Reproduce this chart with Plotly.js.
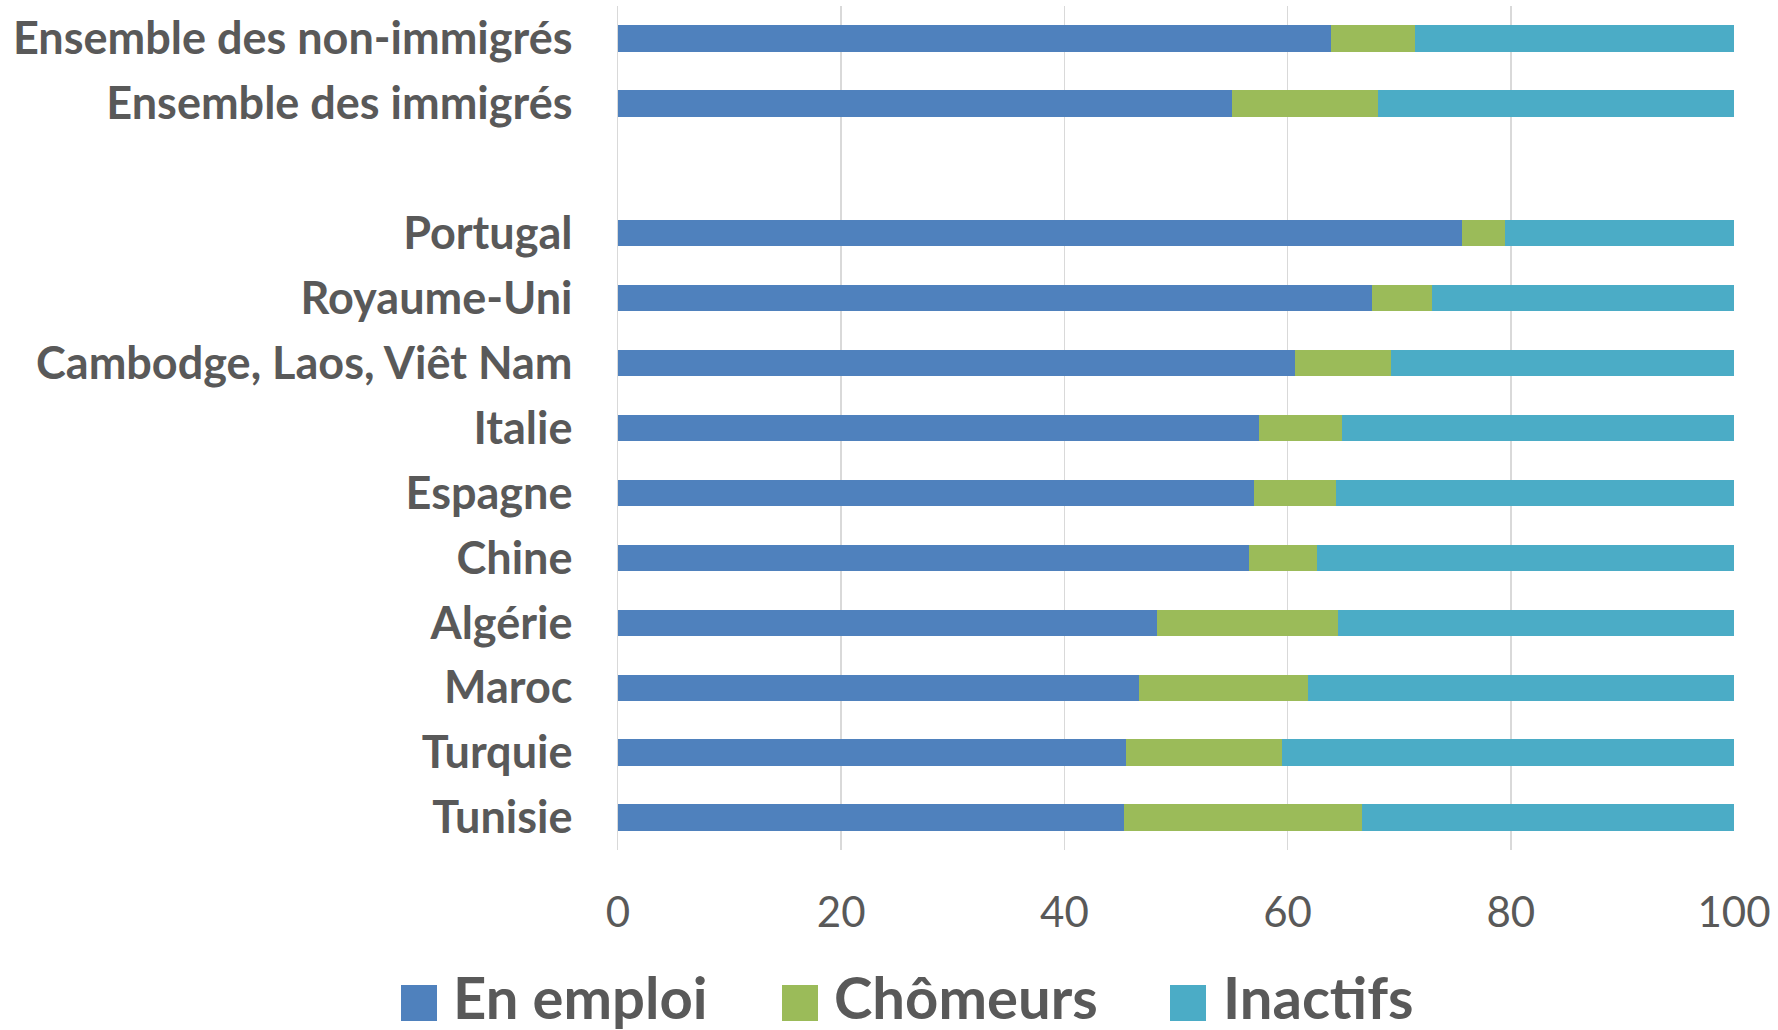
<!DOCTYPE html>
<html>
<head>
<meta charset="utf-8">
<script src="https://cdn.plot.ly/plotly-3.0.1.min.js"></script>
<style>
  html, body { margin: 0; padding: 0; background: #ffffff; }
  #chart { width: 1778px; height: 1030px; }
</style>
</head>
<body>
<div id="chart"></div>
<script>
// Categories, top to bottom (blank row separates the two totals from the countries)
const categories = [
  "Ensemble des non-immigrés",
  "Ensemble des immigrés",
  " ",
  "Portugal",
  "Royaume-Uni",
  "Cambodge, Laos, Viêt Nam",
  "Italie",
  "Espagne",
  "Chine",
  "Algérie",
  "Maroc",
  "Turquie",
  "Tunisie"
];
const enEmploi = [63.9, 55.0, null, 75.6, 67.6, 60.7, 57.4, 57.0, 56.5, 48.3, 46.7, 45.5, 45.3];
const chomeurs = [7.5, 13.1, null, 3.9, 5.3, 8.6, 7.5, 7.3, 6.1, 16.2, 15.1, 14.0, 21.4];
const inactifs = [28.6, 31.9, null, 20.5, 27.1, 30.7, 35.1, 35.7, 37.4, 35.5, 38.2, 40.5, 33.3];
const seriesNames = ["En emploi", "Chômeurs", "Inactifs"];
const xTicks = [0, 20, 40, 60, 80, 100];

const colors = ["#4F81BD", "#9BBB59", "#4BACC6"];
const textColor = "#595959";
const seriesValues = [enEmploi, chomeurs, inactifs];

const traces = seriesValues.map((vals, i) => ({
  type: "bar",
  orientation: "h",
  name: seriesNames[i],
  y: categories,
  x: vals,
  marker: { color: colors[i], line: { width: 0 } },
  hoverinfo: "name+x",
  showlegend: false
}));

// Layout geometry (pixels)
const W = 1778, H = 1030;
const L = 618, R = 1734, T = 6, B = 850;
const pw = R - L, ph = B - T;
const px = v => (v - L) / pw;      // pixel x -> paper
const py = v => (B - v) / ph;      // pixel y -> paper

// Custom legend (large squares, as in the reference)
const legendItems = [
  { sq: 401, tx: 451 },
  { sq: 782, tx: 832 },
  { sq: 1170, tx: 1221 }
];
const shapes = legendItems.map((it, i) => ({
  type: "rect", xref: "paper", yref: "paper",
  x0: px(it.sq), x1: px(it.sq + 36),
  y0: py(1021), y1: py(985),
  fillcolor: colors[i], line: { width: 0 }
}));
const annotations = legendItems.map((it, i) => ({
  xref: "paper", yref: "paper",
  x: px(it.tx), y: py(996),
  xanchor: "left", yanchor: "middle",
  text: seriesNames[i],
  showarrow: false,
  font: { family: "Lato, 'Open Sans', sans-serif", size: 58, color: textColor, weight: 700 }
}));

const layout = {
  width: W, height: H,
  paper_bgcolor: "#ffffff",
  plot_bgcolor: "#ffffff",
  barmode: "stack",
  bargap: 0.595,
  margin: { l: L, r: W - R, t: T, b: H - B, pad: 0 },
  showlegend: false,
  xaxis: {
    range: [0, 100],
    tickvals: xTicks,
    ticktext: xTicks.map(String),
    showgrid: true,
    gridcolor: "#d9d9d9",
    gridwidth: 1.5,
    zeroline: false,
    showline: false,
    ticks: "",
    ticklabelstandoff: 34,
    tickfont: { family: "Lato, 'Open Sans', sans-serif", size: 42, color: textColor },
    fixedrange: true
  },
  yaxis: {
    type: "category",
    categoryorder: "array",
    categoryarray: categories,
    autorange: "reversed",
    showgrid: false,
    zeroline: false,
    showline: true,
    linecolor: "#d9d9d9",
    linewidth: 1.5,
    ticks: "",
    ticklabelstandoff: 35,
    tickfont: { family: "Lato, 'Open Sans', sans-serif", size: 45, color: textColor, weight: 700 },
    fixedrange: true
  },
  shapes: shapes,
  annotations: annotations,
  font: { family: "Lato, 'Open Sans', sans-serif", color: textColor }
};

Plotly.newPlot("chart", traces, layout, { displayModeBar: false, staticPlot: true });
</script>
</body>
</html>
